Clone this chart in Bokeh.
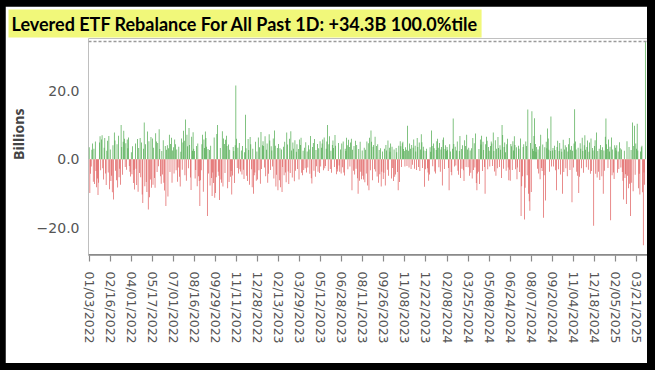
import math
from bokeh.plotting import figure
from bokeh.layouts import column
from bokeh.models import ColumnDataSource, FixedTicker, Range1d
from bokeh.embed import file_html
from bokeh.resources import INLINE

# ---- data (billions), one value per trading day ----
b00 = [3.5, -9.8, -4.2, -2.1, 2.8, 4.6, -6.5, 3.1, -7.2, 5.2, -3.4, -8.1, -5.6, -10.4, -6.8, 4.9, 6.7, -3.2, 5.8, 7.0, -2.6, -5.9, 3.4, 6.2, -4.1, -7.5, 2.5, 5.4, -3.8, 6.8, -8.7]
b01 = [2.9, -6.3, -4.8, -9.6, 4.1, -11.7, 7.8, 5.5, -3.3, -6.1, 4.4, -8.2, 6.9, -5.2, -2.7, -7.4, 10.0, 3.6, -4.5, 5.1, 8.3, 6.0, -2.2, 4.7, -3.0, 5.8, 3.2, 6.4, -1.9, -3.6, -5.0]
b02 = [2.1, -4.3, 3.8, -6.9, -3.1, -8.8, 4.6, -2.7, -7.5, 5.9, -9.4, 3.3, -4.0, 6.2, -5.2, 4.9, -10.2, -12.7, 3.1, 10.7, -7.8, 4.4, -6.6, -9.5, 8.1, -14.6, 5.3, -11.0, -5.9, 6.5, -8.3]
b03 = [6.1, -7.4, 3.4, -5.4, -8.3, 7.6, 5.2, -3.7, 4.8, -2.0, 8.8, 3.0, -4.9, -7.1, 2.4, -4.4, 5.6, -6.8, -9.1, 3.9, -13.6, 2.8, 4.1, -10.8, 3.2, 7.2, -3.7, 4.5, 6.3, -6.8, 2.6]
b04 = [3.5, -4.1, 5.8, 4.4, -3.2, 2.9, -6.5, -2.4, 3.7, -5.1, -7.9, 2.2, 6.1, -3.0, 4.9, 8.3, 5.4, -4.6, 11.6, -6.2, 7.2, 3.8, -2.6, 9.1, 4.2, -5.3, -8.9, 6.6, 2.5, 7.9, 3.1]
b05 = [2.4, -5.6, -3.1, 3.9, -7.8, 4.6, -4.9, -6.3, -13.6, -6.1, -3.2, 4.4, 7.2, -9.4, 5.8, 3.3, 8.1, 6.2, 3.7, -16.5, 3.0, -4.1, 2.7, -7.6, 4.0, -5.4, -10.7, -3.8, -6.9, 6.4, -11.2]
b06 = [-9.8, -5.2, 7.4, 10.0, -3.6, -4.8, -11.8, 3.3, -5.9, -6.8, 8.2, -7.9, 6.1, 4.5, -4.0, 5.7, 6.9, 3.9, -8.4, 4.3, -6.6, 2.8, -5.1, -3.4, -10.2, -4.7, 3.6, 2.4, -6.9, 4.1, 21.5]
b07 = [6.0, -2.5, 3.4, -4.1, 4.8, -2.9, -3.5, 2.6, -4.4, 3.9, -3.0, -5.7, 2.1, 13.0, 3.2, -4.8, -6.3, 5.9, 2.7, -7.4, 6.5, 4.4, -2.9, -8.1, 3.1, -10.0, -4.6, -3.8, 5.1, -6.2, 2.3]
b08 = [-5.9, 6.4, -3.2, 3.5, -7.1, 8.0, -2.8, 4.1, 5.3, 3.9, -2.4, 6.7, -4.9, 2.8, 4.6, -6.8, -4.2, 7.3, 5.5, -3.1, 3.8, 2.6, -2.1, 6.1, -5.6, 8.4, 4.0, -7.9, -4.5, 3.3, -9.0]
b09 = [4.5, -6.1, 3.2, -8.1, 2.9, -9.5, -2.2, 3.7, -4.6, 5.1, -3.8, -6.7, 7.8, 4.3, -3.5, -7.2, 6.0, -4.0, 8.2, 2.6, -5.3, 4.9, 3.1, -6.4, 5.6, -3.3, 2.2, 4.4, -2.8, 3.0, -5.9]
b10 = [5.8, 4.2, 6.3, -3.9, -4.6, 2.5, -3.1, 3.4, -2.6, 5.0, -3.8, 2.3, -2.4, 4.1, 2.9, -4.2, 6.8, -5.5, -7.0, 3.6, 4.8, -3.3, 5.9, -5.1, 2.7, -2.0, 4.5, -3.6, 3.2, -4.0, 5.3]
b11 = [-2.1, 3.4, 4.6, 5.8, -3.2, 6.4, -2.6, -1.9, 3.1, 5.2, 10.0, -3.4, 4.4, 6.7, -2.8, 2.5, -3.9, 4.2, 5.5, 3.3, -2.2, 7.1, 4.0, -4.3, -2.7, -3.5, 4.8, -1.8, -3.6, 2.9, -4.1]
b12 = [4.6, -2.3, 5.2, -3.8, -4.7, 3.1, 2.4, 6.3, 4.1, -2.9, 5.7, 3.6, -2.1, 4.9, 6.0, -9.0, 2.8, -3.3, 3.9, -4.4, 5.4, -2.7, 4.2, -5.5, -10.0, 3.0, -6.2, 5.1, -3.6, -5.8, 2.6]
b13 = [-4.8, -5.9, 3.4, -6.7, 2.8, -4.1, 5.2, -7.6, 4.7, -9.0, 6.3, -3.2, 8.4, 5.1, -6.1, 3.7, 4.2, -2.9, 6.6, -3.5, 3.9, -5.0, 4.4, -6.8, 2.7, -4.3, 3.2, -7.9, -3.6, 2.3, -5.7]
b14 = [-3.9, 3.1, -7.6, 4.2, 2.6, -3.0, 5.5, -4.8, 3.4, 2.2, 4.6, -5.6, 3.7, -2.5, -6.3, 2.9, -5.1, -4.4, 3.3, 2.1, -3.7, -9.0, 4.0, -6.6, 5.3, 3.8, -2.2, 4.7, 5.1, 3.0, 2.4]
b15 = [-2.1, 3.5, 2.8, -1.9, 9.8, 2.5, -2.4, 4.6, 3.1, -2.8, 4.2, -1.6, 3.4, 5.8, -2.7, 4.0, 2.3, -3.1, 6.2, 3.6, -2.2, 4.9, -3.4, 2.9, 7.3, 5.0, -2.5, 3.7, 2.6, -8.0, -2.9]
b16 = [2.4, 3.1, -2.6, -3.8, -6.2, -4.4, 3.5, 2.2, 8.4, 3.9, -2.0, 4.6, 3.2, -3.5, -4.1, 2.7, 5.3, 6.0, 3.4, -2.3, 4.8, -3.6, 2.9, 3.6, -7.6, 5.7, 6.4, -2.8, 3.0, 4.1, 2.5]
b17 = [3.6, 2.8, -2.5, -9.0, 4.4, 2.3, -3.7, -4.6, 3.1, 11.9, 4.5, -2.1, 3.7, -1.8, 2.6, 5.2, -3.3, -4.5, 2.4, 6.8, -5.4, 3.0, -2.7, 4.1, -3.2, -6.3, 5.6, 3.9, -2.2, 7.2, 2.9]
b18 = [-2.3, 3.4, -4.8, 2.6, -3.9, 3.2, -5.6, 6.2, -3.1, 4.7, -2.4, 7.5, -6.9, -9.0, -4.1, -3.6, 3.0, -7.2, 5.8, 4.3, 6.9, -3.4, 5.1, 2.7, -2.2, -10.0, 4.4, 6.6, 5.4, -2.9, 3.6]
b19 = [2.5, -2.1, 3.9, 5.2, 4.6, -1.9, 7.8, 2.4, -3.5, 5.6, -4.8, 3.1, -2.6, 6.5, 3.3, -2.2, 4.1, 2.8, -5.4, 10.0, 7.1, -2.7, 3.6, 4.9, 2.1, -3.3, 4.4, 6.0, -2.4, -6.1, -3.0]
b20 = [-6.2, 4.5, 3.8, -3.1, 5.3, 2.6, 6.7, 4.2, -2.9, 3.5, -5.8, -2.4, 4.0, 3.1, -3.7, 6.1, -16.5, -7.8, -4.9, 3.6, 4.4, -17.5, -8.3, 5.2, 3.9, -4.6, 14.5, -10.0, -12.2, -15.0, 4.8]
b21 = [-9.5, 14.0, 3.1, 2.4, 6.8, 12.0, 4.5, 2.2, 3.6, -2.7, 2.9, -4.1, 3.8, -5.8, 7.2, -2.5, -3.4, 4.3, -17.0, -4.6, 3.5, -12.0, 5.1, 3.2, 9.0, 6.1, 2.8, -3.6, 2.4, 12.5, -2.1]
b22 = [2.6, 3.3, -2.1, 4.0, 2.7, -3.2, -9.0, 3.6, 5.4, -2.9, 2.4, 4.8, -4.4, 3.1, 2.2, -10.0, 5.7, -3.7, 2.9, 4.1, -2.6, 3.5, -4.9, 2.3, 4.4, 6.2, -3.1, 2.8, 3.9, -12.5, 2.5]
b23 = [-2.4, 4.6, 14.6, 5.2, 2.9, -3.6, -4.8, 3.4, -9.8, -5.1, 4.7, 3.1, -2.6, 6.3, 2.4, -3.9, 4.1, 7.0, 2.8, -2.3, 3.6, 5.5, -3.0, 2.2, 4.9, -4.2, 6.1, -3.4, 3.3, 2.6, -19.3]
b24 = [3.9, 5.6, -4.2, 7.8, -5.3, 2.4, -3.6, 3.1, -6.0, 4.2, 2.7, -4.9, 3.5, -10.0, 2.6, -3.3, 6.6, 11.9, 4.4, 3.0, -2.5, 5.8, 2.3, 3.7, -17.7, 6.4, -4.6, 2.9, -3.8, -5.7, 4.1]
b25 = [3.4, 2.6, 4.1, -3.9, 2.3, -2.8, 5.0, 3.2, -2.4, 2.9, -3.7, -6.2, -11.7, 2.5, -5.4, -4.3, -13.0, 5.3, -4.8, -8.4, 3.6, -7.1, -16.5, 2.7, -6.8, 10.7, -9.3, 3.9, 9.8, -4.5, 4.6]
b26 = [3.1, 10.4, 2.6, -8.4, -4.2, -10.2, 2.3, 3.5, 4.0, -9.6, -25.0, -3.8, -7.4, 34.3]

values = (b00 + b01 + b02 + b03 + b04 + b05 + b06 + b07 + b08 + b09 + b10 + b11 + b12 + b13
          + b14 + b15 + b16 + b17 + b18 + b19 + b20 + b21 + b22 + b23 + b24 + b25 + b26)

tick_index = [0, 31, 62, 93, 124, 155, 186, 217, 248, 279, 310, 341, 372, 403, 434, 465,
              496, 527, 558, 589, 620, 651, 682, 713, 744, 775, 806]
tick_dates = ["01/03/2022", "02/16/2022", "04/01/2022", "05/17/2022", "07/01/2022", "08/16/2022",
              "09/29/2022", "11/11/2022", "12/28/2022", "02/13/2023", "03/29/2023", "05/12/2023",
              "06/28/2023", "08/11/2023", "09/26/2023", "11/08/2023", "12/22/2023", "02/08/2024",
              "03/25/2024", "05/08/2024", "06/24/2024", "08/07/2024", "09/20/2024", "11/04/2024",
              "12/18/2024", "02/05/2025", "03/21/2025"]
y_ticks = [-20, 0, 20]
y_tick_labels = ["\u221220.0", "0.0", "20.0"]
latest_level = [34.3]
title_text = "Levered ETF Rebalance For All Past 1D: +34.3B 100.0%tile"
y_axis_title = "Billions"

GREEN = "#45a645"
RED = "#de5555"
Y_LO, Y_HI = -28.0, 35.2

idx = list(range(len(values)))
pos_src = ColumnDataSource(dict(x=[i for i, v in zip(idx, values) if v >= 0],
                                top=[v for v in values if v >= 0]))
neg_src = ColumnDataSource(dict(x=[i for i, v in zip(idx, values) if v < 0],
                                top=[v for v in values if v < 0]))

fig = figure(width=642, height=357, output_backend="svg", toolbar_location=None,
             x_range=Range1d(-1, 822.2), y_range=Range1d(Y_LO, Y_HI),
             min_border_left=83, min_border_right=0, min_border_top=29, min_border_bottom=108)
fig.background_fill_color = "white"
fig.border_fill_color = "white"
fig.outline_line_color = None
fig.xgrid.visible = False
fig.ygrid.visible = False

fig.vbar(x="x", top="top", bottom=0, width=1.0, source=pos_src, fill_color=GREEN, line_color=None)
fig.vbar(x="x", top="top", bottom=0, width=1.0, source=neg_src, fill_color=RED, line_color=None)

# dashed level of the latest value, drawn as a glyph across the frame
fig.hspan(y=latest_level, line_color="#9a9a9a", line_dash="3 2", line_width=1.5)
# bottom axis rule drawn along the lower edge of the frame
fig.hspan(y=[Y_LO], line_color="#8a8a8a", line_width=3)

# title in a yellow box
fig.title.text = title_text
fig.title.align = "left"
fig.title.offset = -80
fig.title.standoff = 2
fig.title.text_font = "Lato"
fig.title.text_font_style = "bold"
fig.title.text_font_size = "18px"
fig.title.text_color = "black"
fig.title.background_fill_color = "#f1f87a"
fig.title.padding = 3

# x axis
fig.xaxis.ticker = FixedTicker(ticks=tick_index)
fig.xaxis.major_label_overrides = dict(zip(tick_index, tick_dates))
fig.xaxis.major_label_orientation = -math.pi / 2
fig.xaxis.major_label_text_font = "DejaVu Sans"
fig.xaxis.major_label_text_font_size = "12.5px"
fig.xaxis.major_label_text_color = "#555555"
fig.xaxis.major_label_standoff = 10
fig.xaxis.axis_line_color = None
fig.xaxis.major_tick_line_color = "#8a8a8a"
fig.xaxis.major_tick_line_width = 1.2
fig.xaxis.major_tick_out = 6
fig.xaxis.major_tick_in = 0
fig.xaxis.minor_tick_line_color = None

# y axis
fig.yaxis.ticker = FixedTicker(ticks=y_ticks)
fig.yaxis.major_label_overrides = dict(zip(y_ticks, y_tick_labels))
fig.yaxis.major_label_text_font = "DejaVu Sans"
fig.yaxis.major_label_text_font_size = "14px"
fig.yaxis.major_label_text_color = "#555555"
fig.yaxis.major_label_standoff = 9
fig.yaxis.major_tick_out = 0
fig.yaxis.major_tick_in = 0
fig.yaxis.minor_tick_out = 0
fig.yaxis.axis_line_color = None
fig.yaxis.major_tick_line_color = None
fig.yaxis.minor_tick_line_color = None
# leading no-break spaces lift the vertical title a little above the frame centre
fig.yaxis.axis_label = "\u00a0" * 7 + y_axis_title
fig.yaxis.axis_label_text_font = "Open Sans"
fig.yaxis.axis_label_text_font_style = "bold"
fig.yaxis.axis_label_text_font_size = "14px"
fig.yaxis.axis_label_text_color = "#444444"
fig.yaxis.axis_label_standoff = 6

# black frame around the picture
p = column(fig, styles={"background-color": "black", "padding": "6px 8px 7px 5px"})

open("out.html", "w").write(file_html(p, INLINE))
